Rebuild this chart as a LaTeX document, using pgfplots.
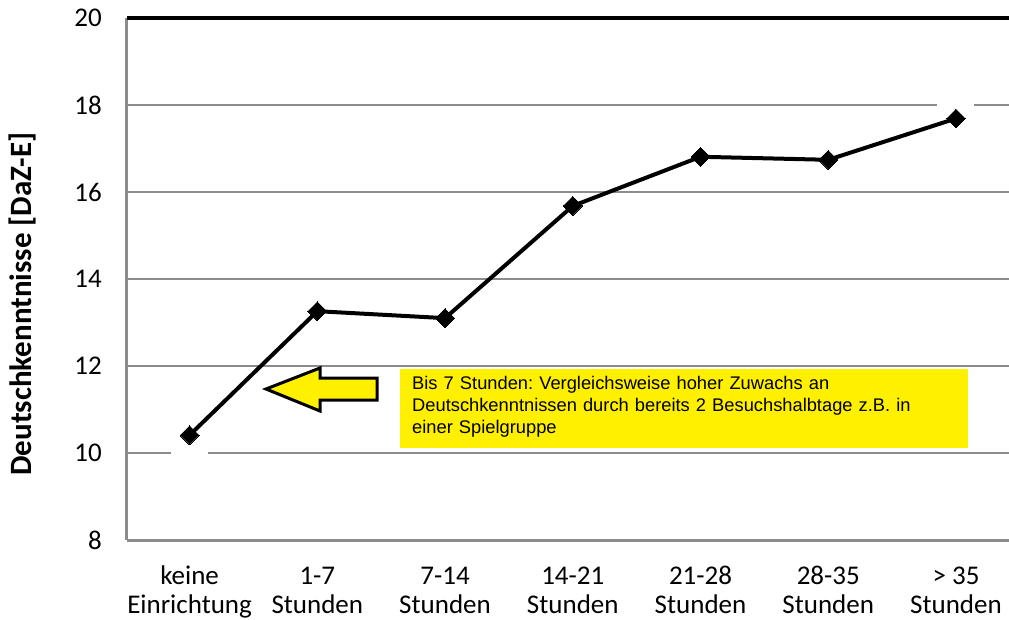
\documentclass[border=0pt]{standalone}
\usepackage{pgfplots}
\pgfplotsset{compat=1.18}
\usepackage{fontspec}
\setmainfont{Carlito}
\newfontfamily\arial{Liberation Sans}
\definecolor{gridgray}{RGB}{140,140,140}
\definecolor{noteyellow}{RGB}{255,240,0}
\begin{document}
\frenchspacing
\begin{tikzpicture}[x=1pt,y=1pt]
\useasboundingbox (-127,-79) rectangle (882,540);
\begin{axis}[
  at={(0,0)}, anchor=south west,
  scale only axis, width=882pt, height=522pt,
  xmin=-0.49, xmax=6.415, ymin=8, ymax=20,
  axis x line*=bottom, axis y line*=left,
  axis line style={-, gridgray, line width=3pt},
  ytick={8,10,12,14,16,18},
  extra y ticks={20},
  extra y tick style={grid style={black, line width=4pt}},
  ymajorgrids, grid style={gridgray, line width=2pt},
  major tick length=0pt,
  xtick={0,...,6},
  xticklabels={keine\strut\\Einrichtung\strut, 1-7\strut\\Stunden\strut, 7-14\strut\\Stunden\strut, 14-21\strut\\Stunden\strut, 21-28\strut\\Stunden\strut, 28-35\strut\\Stunden\strut, > 35\strut\\Stunden\strut},
  xticklabel style={align=center, inner sep=0pt, yshift=-24pt, font=\fontsize{27}{29}\selectfont},
  yticklabel style={inner sep=0pt, xshift=-25pt, anchor=east, font=\fontsize{27}{30}\selectfont},
  /pgf/number format/assume math mode=true,
  ylabel={\bfseries Deutschkenntnisse [DaZ-E]},
  ylabel style={at={(axis description cs:-0.119,0.452)}, anchor=center, rotate=0, font=\fontsize{31}{34}\selectfont},
  clip=true, clip marker paths=true,
]
\addplot[white, only marks, mark=square*, mark size=18pt, mark options={fill=white, draw=white, line width=0pt}]
  coordinates {(0,10.41) (6,17.69)};
\addplot[black, line width=4pt, mark=square*, mark size=6.7pt, mark options={rotate=45, fill=black, line width=0pt}]
  coordinates {(0,10.41) (1,13.26) (2,13.10) (3,15.68) (4,16.81) (5,16.74) (6,17.69)};
\end{axis}
% annotation arrow
\draw[fill=noteyellow, line width=3pt, line join=miter]
  (139,151) -- (193,172) -- (193,162) -- (250,162) -- (250,140) -- (193,140) -- (193,129) -- cycle;
% annotation box
\fill[noteyellow] (273,92) rectangle (841,171);
\node[anchor=north west, inner sep=0pt, text width=550pt, align=left,
  font=\arial\fontsize{18.3}{22}\selectfont] at (285,164)
  {Bis 7 Stunden: Vergleichsweise hoher Zuwachs an\\Deutschkenntnissen durch bereits 2 Besuchshalbtage z.B. in\\einer Spielgruppe};
\end{tikzpicture}
\end{document}
